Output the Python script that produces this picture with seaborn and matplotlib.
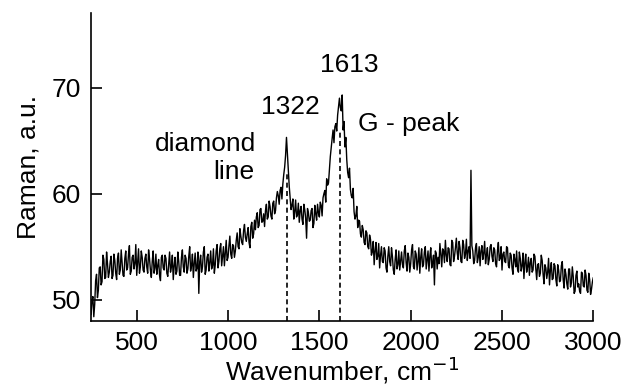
import matplotlib
matplotlib.use("Agg")
import matplotlib.pyplot as plt
import numpy as np
import pandas as pd
import seaborn as sns

# Raman spectrum.
# raman: values at 250, 260, ..., 3000 cm-1
# raman_mid: values in between, at 255, 265, ..., 2995 cm-1
wavenumber_start = 250
wavenumber_step = 10
raman = [
    48.6, 50.3, 49.6, 52.4, 50.9, 53.1, 51.7, 53.8, 52.1, 53.4,
    52.6, 54.1, 52.3, 53.7, 51.9, 54.4, 52.8, 53.5, 52.2, 54.6,
    53.0, 55.1, 52.7, 54.2, 53.4, 52.3, 54.8, 53.1, 54.0, 52.6,
    54.3, 52.5, 53.9, 52.1, 54.6, 53.0, 52.4, 53.8, 51.8, 54.2,
    52.8, 53.9, 52.2, 54.5, 53.1, 51.9, 54.0, 52.7, 53.6, 52.3,
    54.7, 52.6, 53.9, 52.9, 55.0, 53.2, 52.1, 54.4, 53.0, 50.6,
    54.2, 53.1, 55.0, 52.8, 54.3, 53.5, 52.9, 54.8, 53.3, 55.2,
    53.6, 55.3, 54.1, 53.2, 55.6, 54.0, 56.0, 53.9, 55.1, 54.6,
    56.3, 54.8, 56.0, 55.2, 57.1, 55.5, 56.8, 54.9, 57.3, 56.2,
    56.6, 58.2, 57.0, 58.6, 57.4, 56.9, 59.0, 57.8, 58.8, 57.6,
    59.3, 58.4, 60.2, 59.0, 60.6, 60.9, 62.5, 65.3, 62.2, 59.6,
    58.9, 57.6, 59.4, 58.0, 57.3, 58.8, 57.1, 58.5, 55.8, 58.2,
    57.5, 58.6, 57.2, 58.1, 59.0, 57.8, 58.9, 59.6, 60.3, 61.4,
    61.0, 63.5, 65.2, 64.8, 66.6, 67.4, 69.0, 67.8, 66.0, 64.4,
    63.2, 61.5, 60.4, 59.6, 58.3, 57.9, 56.8, 57.4, 55.9, 56.6,
    55.2, 56.3, 54.8, 55.7, 54.5, 53.3, 55.4, 54.1, 53.0, 55.0,
    53.5, 54.6, 52.6, 55.0, 53.2, 54.1, 52.4, 54.7, 53.3, 52.8,
    54.5, 53.0, 55.1, 52.7, 54.0, 53.4, 55.2, 52.9, 54.3, 53.6,
    52.5, 54.8, 53.3, 55.0, 53.8, 52.7, 54.9, 53.5, 51.4, 54.4,
    54.0, 55.3, 53.1, 54.6, 55.6, 53.6, 54.8, 53.2, 55.4, 54.1,
    55.8, 53.8, 54.9, 53.5, 55.2, 54.3, 53.7, 55.0, 62.2, 54.6,
    53.7, 55.3, 54.0, 53.2, 55.1, 54.4, 53.4, 54.9, 53.8, 55.2,
    53.6, 54.7, 53.1, 55.4, 53.9, 52.8, 54.5, 53.5, 54.9, 53.0,
    54.2, 52.4, 53.8, 54.6, 52.6, 53.9, 53.2, 52.0, 54.3, 53.1,
    52.3, 53.9, 52.8, 54.1, 51.9, 53.4, 52.5, 53.7, 51.5, 53.0,
    52.6, 51.4, 53.5, 52.0, 53.2, 51.3, 52.8, 51.8, 53.6, 51.1,
    52.4, 51.0, 52.9, 51.6, 52.2, 50.8, 52.7, 51.5, 50.6, 52.5,
    51.2, 52.3, 50.7, 51.9, 51.0, 52.1,
]
raman_mid = [
    49.9, 48.4, 51.8, 50.2, 53.0, 51.4, 54.2, 52.0, 54.5, 52.1,
    53.6, 52.0, 54.3, 52.5, 53.9, 52.4, 54.7, 52.3, 53.9, 52.8,
    54.3, 52.4, 54.0, 52.9, 55.2, 53.6, 52.5, 54.6, 52.8, 53.9,
    53.1, 54.7, 52.8, 53.6, 52.5, 54.3, 53.2, 52.3, 54.0, 53.0,
    54.2, 52.5, 53.4, 52.6, 54.2, 53.2, 52.4, 54.5, 52.3, 54.0,
    53.1, 54.2, 52.5, 54.1, 52.7, 54.3, 53.4, 52.7, 54.5, 53.6,
    52.6, 54.5, 52.4, 54.0, 52.7, 54.6, 53.2, 52.5, 54.6, 53.0,
    54.8, 53.2, 55.0, 54.4, 53.7, 55.1, 54.3, 55.2, 54.0, 55.6,
    55.0, 56.7, 55.4, 56.5, 55.9, 56.2, 55.4, 56.9, 55.8, 57.5,
    57.8, 56.8, 58.5, 57.3, 58.1, 58.4, 57.6, 59.3, 57.9, 59.1,
    58.1, 59.6, 59.8, 60.3, 59.5, 61.8, 63.6, 63.8, 60.7, 58.5,
    59.5, 58.3, 57.8, 59.1, 58.4, 57.6, 59.0, 57.7, 58.6, 57.4,
    58.4, 56.8, 58.9, 57.5, 58.2, 59.2, 57.9, 60.0, 59.2, 60.8,
    62.2, 64.4, 66.0, 66.3, 65.9, 68.2, 68.1, 69.3, 66.8, 65.3,
    62.0, 62.4, 59.8, 60.5, 57.6, 58.8, 57.5, 56.2, 57.0, 55.4,
    56.5, 55.0, 56.1, 54.2, 55.5, 54.6, 53.8, 55.3, 54.2, 53.6,
    54.9, 53.0, 54.1, 53.6, 54.9, 52.8, 53.8, 52.9, 54.6, 53.7,
    53.3, 54.6, 53.5, 54.4, 52.6, 54.7, 53.1, 54.6, 52.8, 54.9,
    54.0, 53.1, 54.5, 52.9, 54.6, 54.1, 53.0, 54.2, 54.6, 52.9,
    53.4, 54.3, 54.8, 53.5, 54.2, 54.9, 53.3, 55.6, 53.6, 54.9,
    54.4, 55.5, 53.6, 55.6, 53.9, 55.7, 54.6, 53.9, 55.1, 53.4,
    54.9, 53.5, 55.0, 54.6, 53.8, 55.5, 54.2, 53.3, 55.0, 54.1,
    54.9, 53.4, 54.6, 53.7, 55.0, 54.3, 53.6, 55.0, 53.2, 54.4,
    53.0, 54.3, 53.1, 52.9, 54.5, 52.7, 54.4, 53.5, 52.6, 54.0,
    53.5, 52.6, 54.3, 52.9, 53.3, 52.2, 54.2, 52.4, 53.3, 52.0,
    53.9, 52.8, 51.9, 53.4, 51.9, 53.3, 51.7, 53.2, 51.9, 52.9,
    51.5, 52.9, 51.2, 53.1, 50.6, 52.3, 51.2, 50.8, 52.6, 51.3,
    52.8, 50.9, 52.5, 50.5, 51.7,
]

# marked peaks and the height where their dashed lines stop
peak_pos = [1322, 1613]
peak_top = [62.0, 66.0]

df = pd.concat([
    pd.DataFrame({'wavenumber': wavenumber_start + wavenumber_step * np.arange(len(raman)),
                  'raman': raman}),
    pd.DataFrame({'wavenumber': wavenumber_start + wavenumber_step / 2
                  + wavenumber_step * np.arange(len(raman_mid)),
                  'raman': raman_mid}),
]).sort_values('wavenumber')

sns.set_style('ticks', {'axes.edgecolor': 'black', 'xtick.color': 'black', 'ytick.color': 'black',
                        'text.color': 'black', 'axes.labelcolor': 'black'})
plt.rcParams['font.family'] = ['Liberation Sans', 'DejaVu Sans']
fs = 19

fig = plt.figure(figsize=(6.36, 3.9), dpi=100)
ax = fig.add_axes([0.1426, 0.177, 0.7903, 0.789])

sns.lineplot(data=df, x='wavenumber', y='raman', color='black', lw=1.0, ax=ax)

for pos, top in zip(peak_pos, peak_top):
    ax.vlines(pos, 48, top, colors='black', linestyles=(0, (3, 2)), lw=1.2)

ax.text(1339, 68.2, '1322', fontsize=fs, ha='center', va='center')
ax.text(1663, 72.1, '1613', fontsize=fs, ha='center', va='center')
ax.text(1155, 64.7, 'diamond', fontsize=fs, ha='right', va='center')
ax.text(1145, 62.0, 'line', fontsize=fs, ha='right', va='center')
ax.text(1713, 66.6, 'G - peak', fontsize=fs, ha='left', va='center')

ax.set(xlim=(248, 3000), ylim=(48, 77))
ax.set_xticks([500, 1000, 1500, 2000, 2500, 3000])
ax.set_yticks([50, 60, 70])
ax.tick_params(direction='in', length=8, width=1.2, labelsize=fs, pad=7)
ax.set_xlabel('Wavenumber, cm$^{-1}$', fontsize=fs, labelpad=0)
ax.set_ylabel('Raman, a.u.', fontsize=fs, labelpad=8)
for side in ['left', 'bottom']:
    ax.spines[side].set_linewidth(1.2)
sns.despine(ax=ax)

fig.savefig('out.png', dpi=100)
